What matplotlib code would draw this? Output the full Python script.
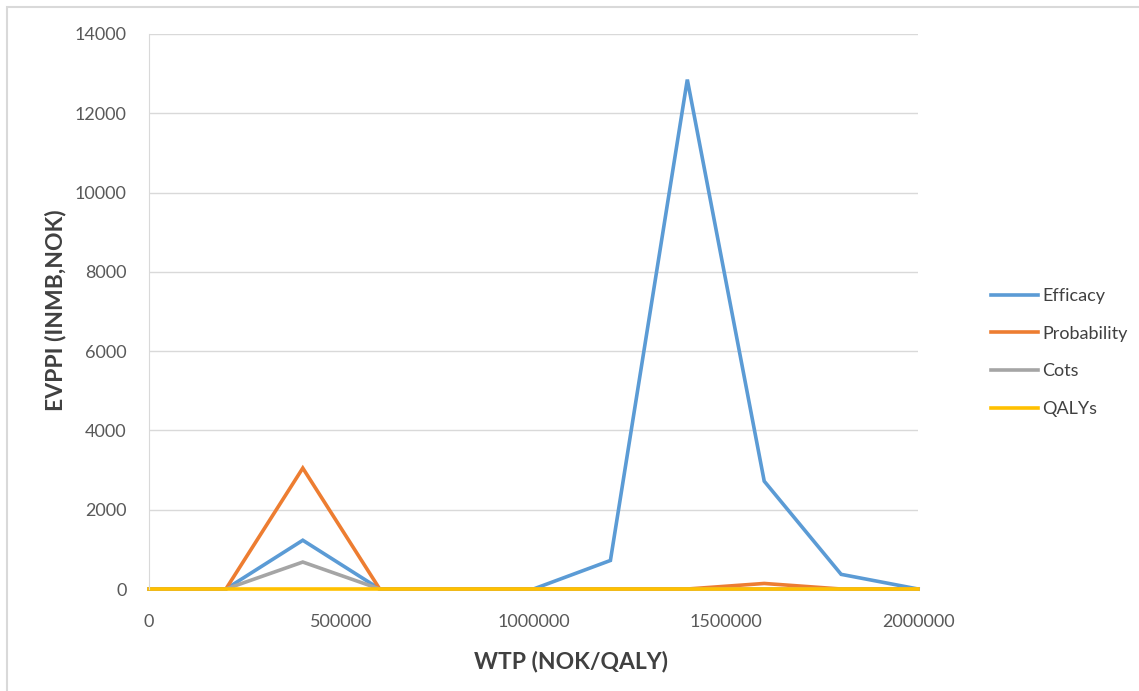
import matplotlib.pyplot as plt
from matplotlib.patches import Rectangle

plt.rcParams['font.family'] = ['Lato', 'DejaVu Sans']

# willingness to pay, NOK per QALY
wtp = [0, 200000, 400000, 600000, 800000, 1000000, 1200000, 1400000, 1600000, 1800000, 2000000]

efficacy = [0, 0, 1230, 0, 0, 0, 720, 12850, 2720, 370, 0]
probability = [0, 0, 3050, 0, 0, 0, 0, 0, 140, 0, 0]
cots = [0, 0, 680, 0, 0, 0, 0, 0, 0, 0, 0]
qalys = [0, 0, 0, 0, 0, 0, 0, 0, 0, 0, 0]

names = ['Efficacy', 'Probability', 'Cots', 'QALYs']
colors = ['#5B9BD5', '#ED7D31', '#A5A5A5', '#FFC000']

fig = plt.figure(figsize=(11.39, 6.91), dpi=100)
ax = fig.add_axes([0.1308, 0.1476, 0.806 - 0.1308, 0.9508 - 0.1476])

for vals, name, col in zip([efficacy, probability, cots, qalys], names, colors):
    ax.plot(wtp, vals, color=col, lw=2.6, label=name, solid_joinstyle='miter', clip_on=False)

ax.set_xlim(0, 2000000)
ax.set_ylim(0, 14000)
ax.set_xticks([0, 500000, 1000000, 1500000, 2000000])
ax.set_yticks(range(0, 14001, 2000))
ax.ticklabel_format(style='plain', axis='both', useOffset=False)
ax.grid(axis='y', color='#D9D9D9', lw=1)
ax.set_axisbelow(True)
for s in ['top', 'right', 'bottom']:
    ax.spines[s].set_visible(False)
ax.spines['left'].set_color('#D9D9D9')
ax.tick_params(length=0, labelsize=13, labelcolor='#595959')
ax.tick_params(axis='y', pad=16)
ax.tick_params(axis='x', pad=18)

ax.set_xlabel('WTP (NOK/QALY)', fontsize=16.5, fontweight='bold', color='#404040', va='center')
ax.xaxis.set_label_coords(0.549, -0.1315)
ax.set_ylabel('EVPPI (INMB,NOK)', fontsize=16.5, fontweight='bold', color='#404040', va='center')
ax.yaxis.set_label_coords(-0.121, 0.503)

ax.legend(loc='center left', bbox_to_anchor=(1.095, 0.426), frameon=False, fontsize=13,
          handlelength=2.6, handletextpad=0.25, labelspacing=1.2, borderpad=0,
          borderaxespad=0, labelcolor='#404040')

# light frame around the chart
fig.patches.append(Rectangle((7 / 1139, -0.1), 1.2, 1 - 7 / 691 + 0.1, transform=fig.transFigure,
                             fill=False, ec='#D9D9D9', lw=1.5))

fig.savefig('out.png', dpi=100)
